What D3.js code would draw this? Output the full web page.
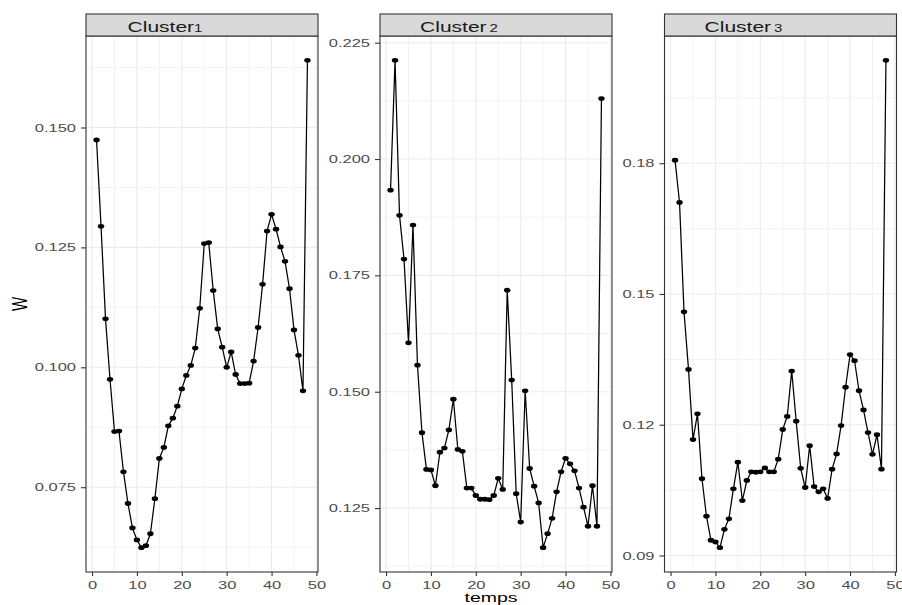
<!DOCTYPE html>
<html>
<head>
<meta charset="utf-8">
<script src="https://cdn.jsdelivr.net/npm/d3@7"></script>
<style>
  html, body { margin: 0; padding: 0; background: #fff; }
  svg { display: block; font-family: "Liberation Sans", Arial, sans-serif; }
</style>
</head>
<body>
<svg id="chart" width="902" height="605"></svg>
<script>
// ---- data ----
const temps = [1,2,3,4,5,6,7,8,9,10,11,12,13,14,15,16,17,18,19,20,21,22,23,24,
               25,26,27,28,29,30,31,32,33,34,35,36,37,38,39,40,41,42,43,44,45,46,47,48];
const clusterNames = ["Cluster", "Cluster", "Cluster"];
const clusterIds = ["1", "2", "3"];
const cluster1 = [0.1474,0.1294,0.1101,0.0975,0.0866,0.0867,0.0782,0.0716,0.0665,0.0640,
                  0.0624,0.0628,0.0653,0.0726,0.0810,0.0833,0.0878,0.0894,0.0919,0.0955,
                  0.0983,0.1004,0.1040,0.1123,0.1258,0.1260,0.1160,0.1080,0.1042,0.1000,
                  0.1032,0.0985,0.0966,0.0966,0.0967,0.1013,0.1083,0.1173,0.1284,0.1319,
                  0.1288,0.1251,0.1221,0.1164,0.1078,0.1025,0.0951,0.1640];
const cluster2 = [0.1933,0.2212,0.1879,0.1785,0.1605,0.1858,0.1557,0.1412,0.1333,0.1332,
                  0.1298,0.1370,0.1379,0.1418,0.1484,0.1376,0.1372,0.1293,0.1293,0.1277,
                  0.1269,0.1269,0.1268,0.1277,0.1314,0.1290,0.1718,0.1525,0.1281,0.1220,
                  0.1502,0.1335,0.1297,0.1261,0.1165,0.1195,0.1228,0.1285,0.1328,0.1357,
                  0.1345,0.1330,0.1293,0.1252,0.1211,0.1298,0.1211,0.2130];
const cluster3 = [0.1807,0.1710,0.1459,0.1327,0.1166,0.1225,0.1076,0.0990,0.0935,0.0931,
                  0.0918,0.0960,0.0984,0.1053,0.1114,0.1026,0.1072,0.1092,0.1091,0.1092,
                  0.1101,0.1092,0.1092,0.1121,0.1189,0.1219,0.1323,0.1208,0.1100,0.1056,
                  0.1152,0.1058,0.1046,0.1053,0.1031,0.1098,0.1133,0.1198,0.1286,0.1361,
                  0.1347,0.1278,0.1234,0.1182,0.1132,0.1177,0.1098,0.2036];
const xTicks = [0, 10, 20, 30, 40, 50];
const xMinor = [5, 15, 25, 35, 45];
const yTicks1 = [0.075, 0.100, 0.125, 0.150];
const yMinor1 = [0.0625, 0.0875, 0.1125, 0.1375, 0.1625];
const yTicks2 = [0.125, 0.150, 0.175, 0.200, 0.225];
const yMinor2 = [0.1125, 0.1375, 0.1625, 0.1875, 0.2125];
const yTicks3 = [0.09, 0.12, 0.15, 0.18];
const yMinor3 = [0.105, 0.135, 0.165, 0.195];
const yFormats = [".3f", ".3f", ".2f"];
const xTitle = "temps";
const yTitle = "W";

// ---- layout ----
const SX = 1.5; // horizontal glyph stretch seen in the reference
const panelLefts = [86, 380, 664.5];
const panelW = 232;
const panelTop = 36, panelBottom = 572, stripTop = 14;

const svg = d3.select("#chart");
const series = [cluster1, cluster2, cluster3];
const majors = [yTicks1, yTicks2, yTicks3];
const minors = [yMinor1, yMinor2, yMinor3];

function expand(ext, f) { const r = ext[1] - ext[0]; return [ext[0] - r * f, ext[1] + r * f]; }

series.forEach((vals, i) => {
  const left = panelLefts[i], right = left + panelW;
  const x = d3.scaleLinear().domain(expand(d3.extent(temps), 0.05)).range([left, right]);
  const y = d3.scaleLinear().domain(expand(d3.extent(vals), 0.05)).range([panelBottom, panelTop]);
  const g = svg.append("g");

  g.append("rect").attr("x", left).attr("y", panelTop).attr("width", panelW)
    .attr("height", panelBottom - panelTop).attr("fill", "#fff");

  // minor grid
  g.selectAll(".ymin").data(minors[i]).join("line")
    .attr("x1", left).attr("x2", right).attr("y1", d => y(d)).attr("y2", d => y(d))
    .attr("stroke", "#F2F2F2").attr("stroke-width", 1);
  g.selectAll(".xmin").data(xMinor).join("line")
    .attr("y1", panelTop).attr("y2", panelBottom).attr("x1", d => x(d)).attr("x2", d => x(d))
    .attr("stroke", "#F2F2F2").attr("stroke-width", 1);
  // major grid
  g.selectAll(".ymaj").data(majors[i]).join("line")
    .attr("x1", left).attr("x2", right).attr("y1", d => y(d)).attr("y2", d => y(d))
    .attr("stroke", "#EBEBEB").attr("stroke-width", 1.1);
  g.selectAll(".xmaj").data(xTicks.filter(d => x(d) <= right)).join("line")
    .attr("y1", panelTop).attr("y2", panelBottom).attr("x1", d => x(d)).attr("x2", d => x(d))
    .attr("stroke", "#EBEBEB").attr("stroke-width", 1.1);

  // line + points
  const pts = temps.map((t, k) => [t, vals[k]]);
  g.append("path").datum(pts)
    .attr("d", d3.line().x(d => x(d[0])).y(d => y(d[1])))
    .attr("fill", "none").attr("stroke", "#000").attr("stroke-width", 1.25);
  g.selectAll(".pt").data(pts).join("ellipse")
    .attr("cx", d => x(d[0])).attr("cy", d => y(d[1]))
    .attr("rx", 3.2).attr("ry", 2.4).attr("fill", "#000");

  // panel border
  g.append("rect").attr("x", left).attr("y", panelTop).attr("width", panelW)
    .attr("height", panelBottom - panelTop).attr("fill", "none")
    .attr("stroke", "#333").attr("stroke-width", 1.1);

  // strip
  g.append("rect").attr("x", left).attr("y", stripTop).attr("width", panelW)
    .attr("height", panelTop - stripTop).attr("fill", "#D9D9D9")
    .attr("stroke", "#333").attr("stroke-width", 1.1);
  const st = g.append("text")
    .attr("transform", `translate(${left + panelW / 2 - 37},31.5) scale(${SX},1)`)
    .attr("text-anchor", "middle").attr("font-size", 14).attr("fill", "#1A1A1A");
  st.append("tspan").text(clusterNames[i]);
  st.append("tspan").attr("dx", i === 0 ? 0 : 2).attr("font-size", 10).text(clusterIds[i]);

  // y axis
  const ya = g.append("g").attr("transform", `translate(${left},0)`)
    .call(d3.axisLeft(y).tickValues(majors[i]).tickFormat(d3.format(yFormats[i]))
      .tickSize(5).tickPadding(5));
  ya.select(".domain").remove();
  ya.selectAll(".tick line").attr("stroke", "#333").attr("stroke-width", 1.1);
  ya.selectAll(".tick text").attr("x", -10 / SX).attr("transform", `scale(${SX},1)`)
    .attr("font-size", 11).attr("fill", "#4D4D4D").attr("font-family", "Liberation Sans, Arial, sans-serif");

  // x axis
  const xa = g.append("g").attr("transform", `translate(0,${panelBottom})`)
    .call(d3.axisBottom(x).tickValues(xTicks).tickSize(4).tickPadding(5));
  xa.select(".domain").remove();
  xa.selectAll(".tick line").attr("stroke", "#333").attr("stroke-width", 1.1);
  xa.selectAll(".tick text").attr("transform", `scale(${SX},1)`)
    .attr("font-size", 11).attr("fill", "#4D4D4D").attr("font-family", "Liberation Sans, Arial, sans-serif");
});

// axis titles
svg.append("text").attr("transform", `translate(491,602) scale(${SX},1)`)
  .attr("text-anchor", "middle").attr("font-size", 13).attr("fill", "#000").text(xTitle);
svg.append("text").attr("transform", `translate(27,304) scale(${SX},1) rotate(-90)`)
  .attr("text-anchor", "middle").attr("font-size", 15).attr("fill", "#000").text(yTitle);
</script>
</body>
</html>
